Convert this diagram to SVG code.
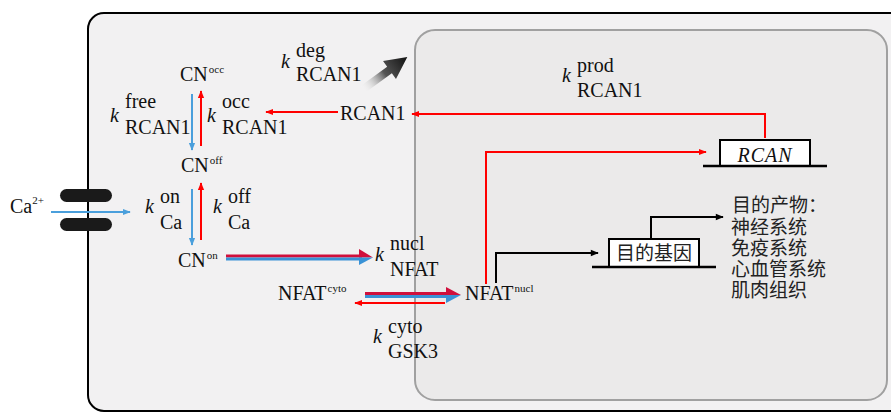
<svg xmlns="http://www.w3.org/2000/svg" width="891" height="413" viewBox="0 0 891 413">
<defs>
<style>
text{font-family:"Liberation Serif","Times New Roman",serif}
.t{font-size:20px;fill:#111}
.s{font-size:11px}
.k{font-size:20px;font-style:italic;fill:#111}
.cj{font-family:"Noto Sans CJK SC","Noto Sans",sans-serif;font-size:19px;fill:#222}
.red{stroke:#ff0000;stroke-width:2;fill:none}
.blue{stroke:#4a9fdc;stroke-width:2;fill:none}
.blk{stroke:#000;stroke-width:2;fill:none}
</style>
<marker id="ar" viewBox="0 0 10 10" refX="9" refY="5" markerWidth="4" markerHeight="4" orient="auto"><path d="M0,1 L10,5 L0,9 z" fill="#ff0000"/></marker>
<marker id="ab" viewBox="0 0 10 10" refX="9" refY="5" markerWidth="4" markerHeight="4" orient="auto"><path d="M0,1 L10,5 L0,9 z" fill="#4a9fdc"/></marker>
<marker id="ak" viewBox="0 0 10 10" refX="9" refY="5" markerWidth="5" markerHeight="4" orient="auto"><path d="M0,1 L10,5 L0,9 z" fill="#000"/></marker>
<linearGradient id="dg" x1="0" y1="0" x2="1" y2="0">
<stop offset="0" stop-color="#ffffff" stop-opacity="0"/>
<stop offset="0.5" stop-color="#555"/>
<stop offset="1" stop-color="#111"/>
</linearGradient>
</defs>
<rect width="891" height="413" fill="#ffffff"/>
<g id="cell"><rect x="88" y="13" width="830" height="398" rx="16" fill="#f2f1f2" stroke="#000" stroke-width="2"/></g>
<g id="nucleus"><rect x="415" y="30" width="472" height="370" rx="20" fill="#ebeaea" stroke="#a0a0a0" stroke-width="2"/></g>

<g id="connectors">
<line x1="51" y1="212" x2="130" y2="212" class="blue" marker-end="url(#ab)"/>
<line x1="192" y1="94" x2="192" y2="150" class="blue" marker-end="url(#ab)"/>
<line x1="201" y1="146" x2="201" y2="91" class="red" marker-end="url(#ar)"/>
<line x1="192" y1="189" x2="192" y2="245" class="blue" marker-end="url(#ab)"/>
<line x1="201" y1="240" x2="201" y2="183" class="red" marker-end="url(#ar)"/>
<line x1="338" y1="112" x2="266" y2="112" class="red" marker-end="url(#ar)"/>
<polyline points="765,138 765,114 412,114" class="red" marker-end="url(#ar)"/>
<polyline points="486,284 486,152 706,152" class="red" marker-end="url(#ar)"/>
<line x1="226" y1="256" x2="362" y2="256" stroke="#d0103c" stroke-width="3"/>
<line x1="226" y1="259" x2="362" y2="259" stroke="#3a92d6" stroke-width="3"/>
<polygon points="359,249 373,257.5 359,257.5" fill="#d0103c"/>
<polygon points="359,257.5 373,257.5 359,265" fill="#3a92d6"/>
<line x1="365" y1="293.5" x2="449" y2="293.5" stroke="#d0103c" stroke-width="3"/>
<line x1="365" y1="296.5" x2="449" y2="296.5" stroke="#3a92d6" stroke-width="3"/>
<polygon points="446,287 461,295 446,295" fill="#d0103c"/>
<polygon points="446,295 461,295 446,303" fill="#3a92d6"/>
<line x1="445" y1="303" x2="355" y2="303" class="red" marker-end="url(#ar)"/>
<polyline points="496,283 496,253 598,253" class="blk" marker-end="url(#ak)"/>
<polyline points="651,239 651,217 723,217" class="blk" marker-end="url(#ak)"/>
<g transform="translate(362,90) rotate(-36)">
<polygon points="0,-4 34,-4 34,-11 56,0 34,11 34,4 0,4" fill="url(#dg)"/>
</g>
</g>

<g id="channel">
<rect x="60" y="189" width="52" height="13" rx="6.5" fill="#1a1a1a"/>
<rect x="60" y="218" width="52" height="13" rx="6.5" fill="#1a1a1a"/>
</g>

<g id="ca"><text class="t" x="10" y="213">Ca<tspan class="s" dy="-9">2+</tspan></text></g>
<g id="cn-occ"><text class="t" x="180" y="81">CN<tspan class="s" dx="1" dy="-8">occ</tspan></text></g>
<g id="cn-off"><text class="t" x="181" y="172">CN<tspan class="s" dx="1" dy="-8">off</tspan></text></g>
<g id="cn-on"><text class="t" x="178" y="267">CN<tspan class="s" dx="1" dy="-8">on</tspan></text></g>
<g id="rcan1"><text class="t" x="340" y="120">RCAN1</text></g>
<g id="nfat-cyto"><text class="t" x="278" y="300">NFAT<tspan class="s" dx="1" dy="-8">cyto</tspan></text></g>
<g id="nfat-nucl"><text class="t" x="465" y="300">NFAT<tspan class="s" dx="1" dy="-8">nucl</tspan></text></g>

<g id="k-deg"><text class="k" x="281" y="68">k</text><text class="t" x="296" y="57">deg</text><text class="t" x="296" y="81">RCAN1</text></g>
<g id="k-free"><text class="k" x="110" y="122">k</text><text class="t" x="125" y="108">free</text><text class="t" x="125" y="134">RCAN1</text></g>
<g id="k-occ"><text class="k" x="207" y="122">k</text><text class="t" x="222" y="108">occ</text><text class="t" x="222" y="134">RCAN1</text></g>
<g id="k-on"><text class="k" x="145" y="213">k</text><text class="t" x="160" y="203">on</text><text class="t" x="160" y="229">Ca</text></g>
<g id="k-off"><text class="k" x="213" y="213">k</text><text class="t" x="228" y="203">off</text><text class="t" x="228" y="229">Ca</text></g>
<g id="k-nucl"><text class="k" x="375" y="261">k</text><text class="t" x="390" y="250">nucl</text><text class="t" x="390" y="276">NFAT</text></g>
<g id="k-cyto"><text class="k" x="373" y="343">k</text><text class="t" x="388" y="333">cyto</text><text class="t" x="388" y="358">GSK3</text></g>
<g id="k-prod"><text class="k" x="562" y="82">k</text><text class="t" x="577" y="72">prod</text><text class="t" x="577" y="97">RCAN1</text></g>

<g id="rcan-gene">
<rect x="720" y="140" width="90" height="26" fill="#fff" stroke="#000" stroke-width="2"/>
<line x1="703" y1="166" x2="827" y2="166" stroke="#000" stroke-width="2.5"/>
<text class="k" x="765" y="162" text-anchor="middle" letter-spacing="1">RCAN</text>
</g>
<g id="target-gene">
<rect x="609" y="239" width="90" height="28" fill="#fff" stroke="#000" stroke-width="2"/>
<line x1="592" y1="267" x2="716" y2="267" stroke="#000" stroke-width="2.5"/>
<text class="cj" x="654" y="260" text-anchor="middle" font-size="20">目的基因</text>
</g>
<g id="products">
<text class="cj"><tspan x="732" y="212">目的产物：</tspan><tspan x="731" y="234">神经系统</tspan><tspan x="731" y="255">免疫系统</tspan><tspan x="731" y="276">心血管系统</tspan><tspan x="731" y="297">肌肉组织</tspan></text>
</g>
</svg>
